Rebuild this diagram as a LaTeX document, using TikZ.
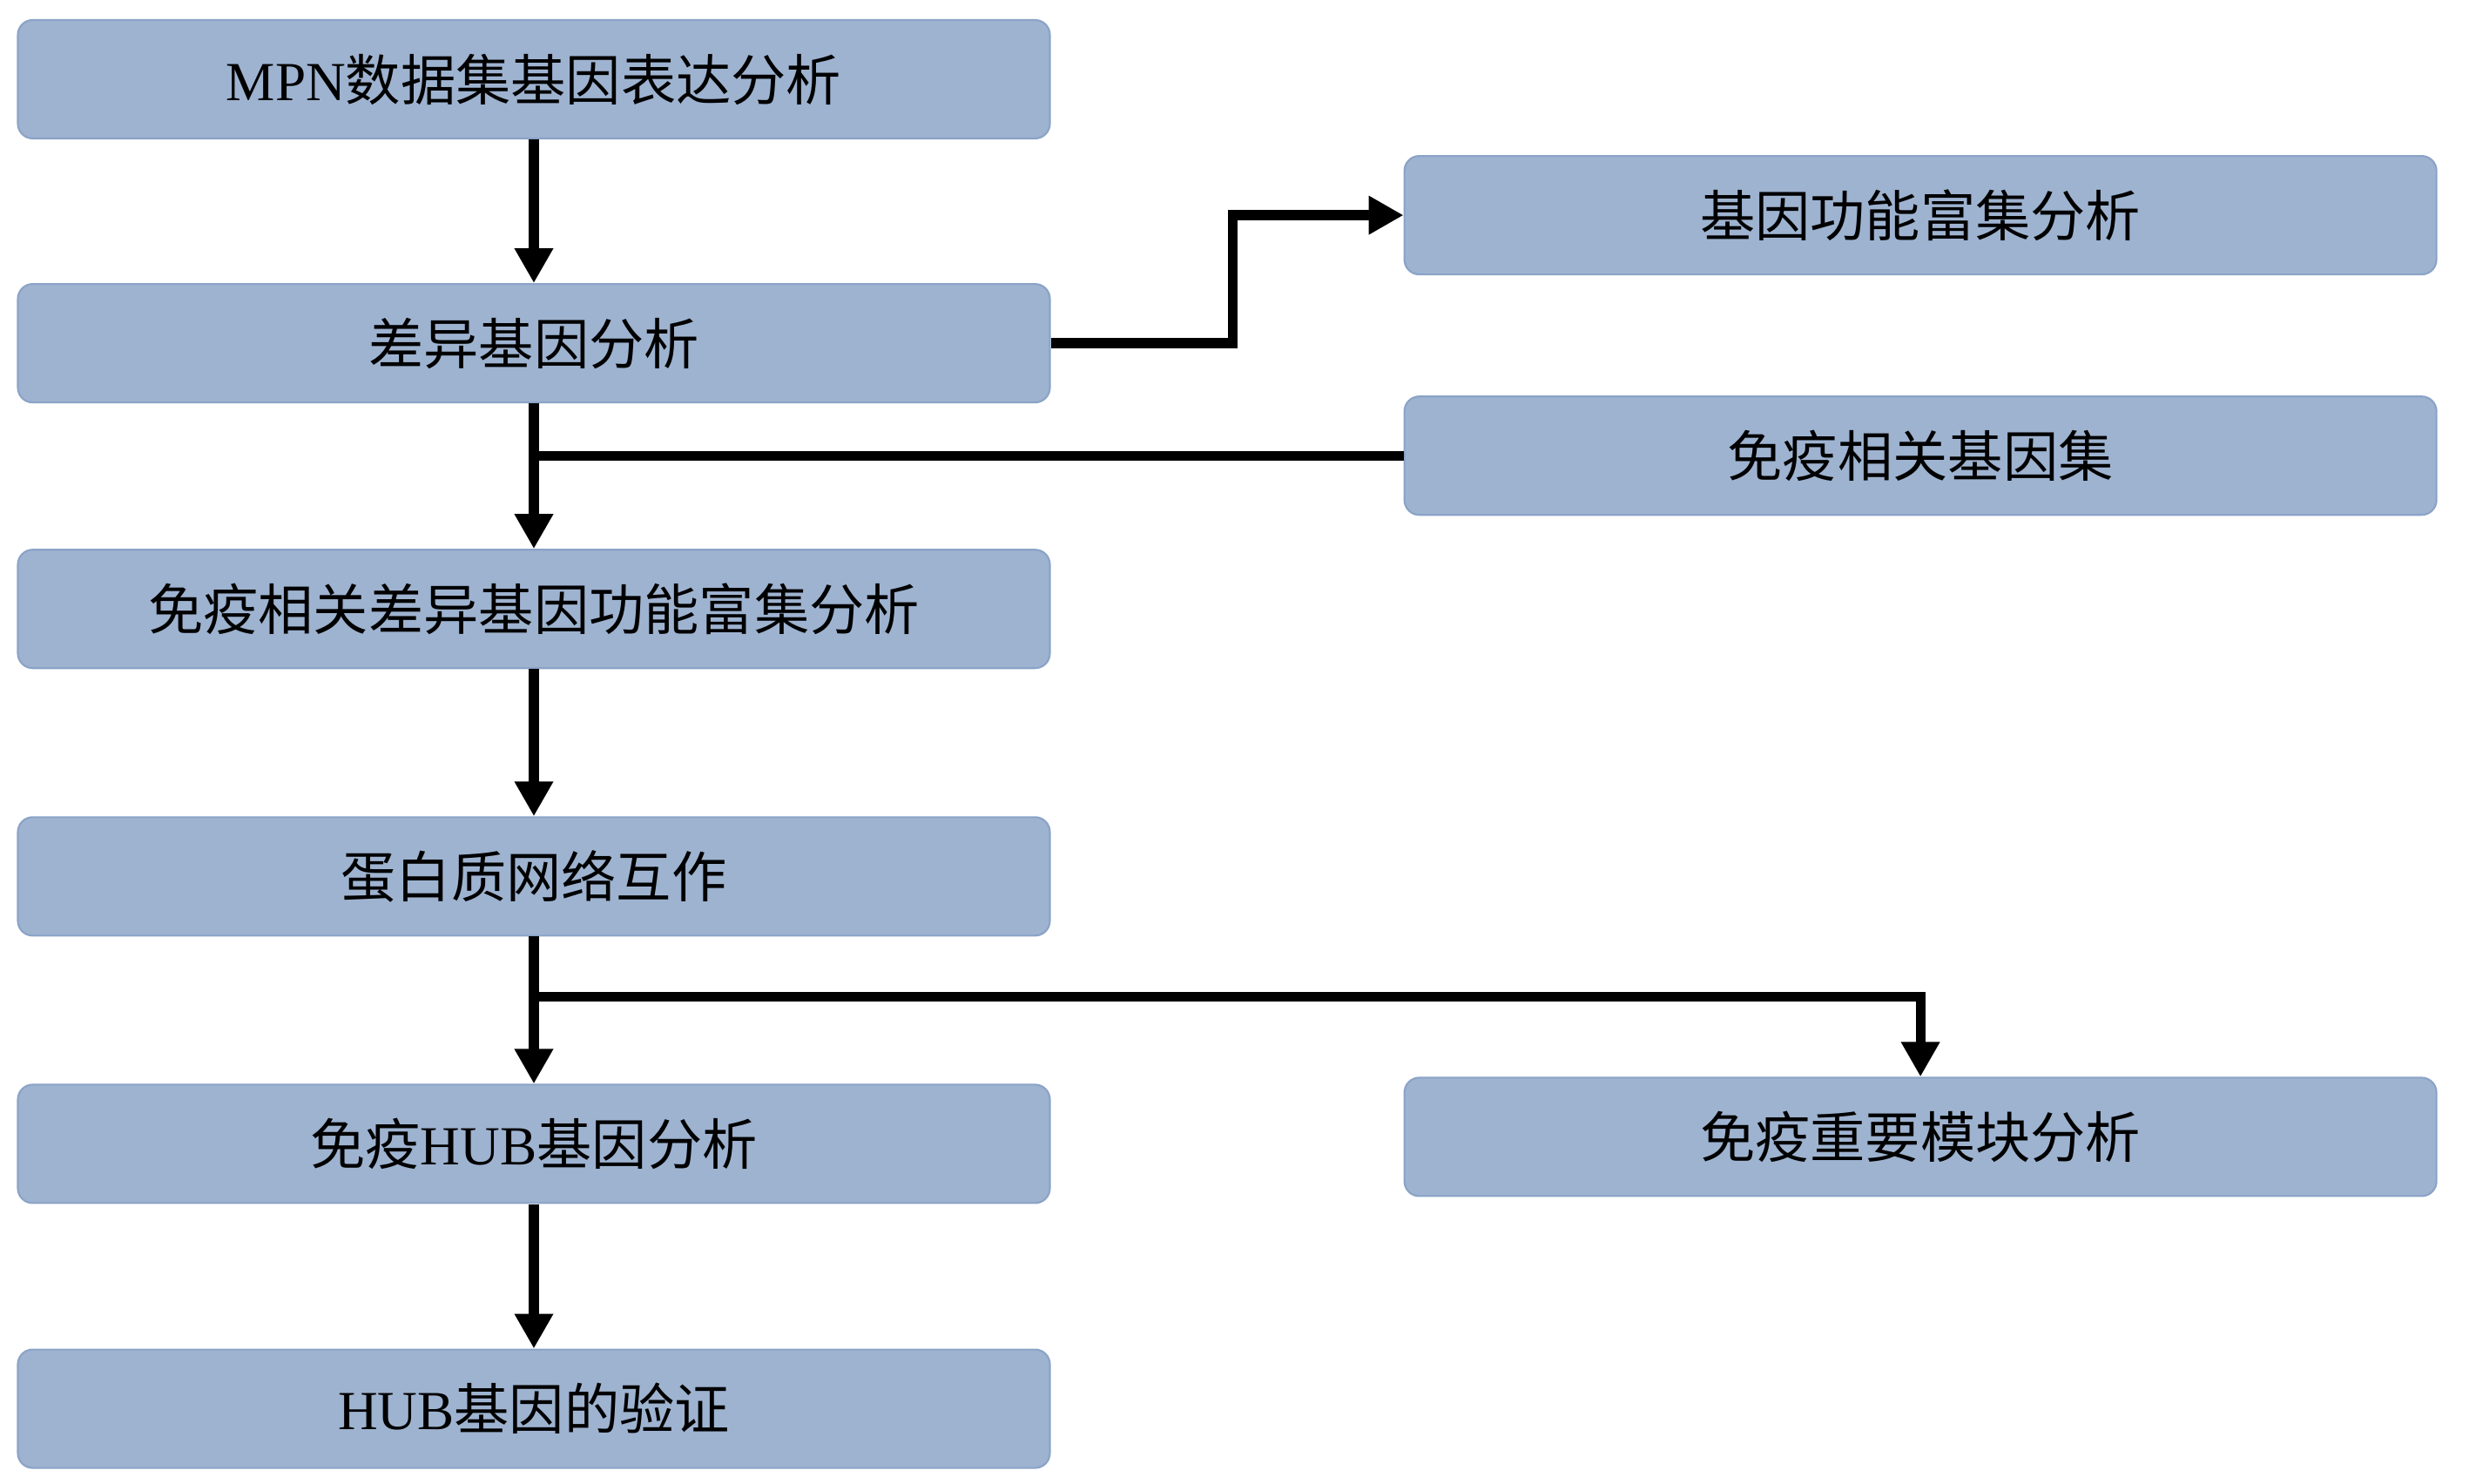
\documentclass[tikz,border=0pt]{standalone}
\usepackage{fontspec}
\setmainfont{Liberation Serif}
\newfontfamily\zhfont{Noto Sans CJK SC}
\usepackage{tikz}
\usetikzlibrary{shapes,arrows.meta,positioning}
\definecolor{boxblue}{RGB}{158, 179, 208}
\definecolor{boxedge}{RGB}{138, 163, 199}
\tikzstyle{stepbox} = [rectangle, rounded corners=0.17cm, draw=boxedge, line width=0.6pt, fill=boxblue, text=black, align=center, font=\fontsize{18}{20}\selectfont, minimum width=11.85cm, minimum height=1.36cm, inner sep=0pt]
\tikzstyle{tedge}  = [draw, line width=3.2pt, -{Triangle[width=0.42cm, length=0.4cm]}]
\tikzstyle{tline}  = [draw, line width=3.2pt]

\begin{document}
\begin{tikzpicture}[auto]
\useasboundingbox (0,0) rectangle (28.35,-17.04);

% main column =============================
\node[stepbox] (data) at (6.13,-0.91) {MPN{\zhfont 数据集基因表达分析}};
\node[stepbox, below=1.65cm of data] (deg) {{\zhfont 差异基因分析}};
\node[stepbox, below=1.67cm of deg] (immdeg) {{\zhfont 免疫相关差异基因功能富集分析}};
\node[stepbox, below=1.69cm of immdeg] (ppi) {{\zhfont 蛋白质网络互作}};
\node[stepbox, below=1.69cm of ppi] (hub) {{\zhfont 免疫}HUB{\zhfont 基因分析}};
\node[stepbox, below=1.66cm of hub] (valid) {HUB{\zhfont 基因的验证}};

% side column
\node[stepbox, below right=0.18cm and 4.05cm of data] (enrich) {{\zhfont 基因功能富集分析}};
\node[stepbox, below=1.38cm of enrich] (immset) {{\zhfont 免疫相关基因集}};
\node[stepbox, right=4.05cm of hub, yshift=0.08cm] (module) {{\zhfont 免疫重要模块分析}};

% bends
\coordinate[right=2.09cm of deg.east] (bend1);
\coordinate[below=0.69cm of ppi.south] (split1);

%edges
\path[tedge] (data) -- (deg);
\path[tedge] (deg) -- (immdeg);
\path[tline] (immset.west) -- (immset.west -| deg.south);
\path[tedge] (deg.east) -- (bend1) |- (enrich.west);
\path[tedge] (immdeg) -- (ppi);
\path[tedge] (ppi) -- (hub);
\path[tedge] (split1) -| (module.north);
\path[tedge] (hub) -- (valid);

\end{tikzpicture}
\end{document}
